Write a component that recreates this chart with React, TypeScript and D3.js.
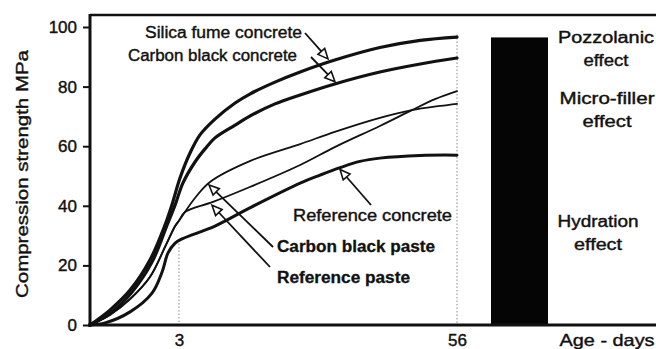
import React, { useEffect, useRef } from 'react';
import * as d3 from 'd3';

type Pt = [number, number]; // [age in days, strength in MPa]

const silicaFumeConcrete: Pt[] = [
  [0, 0], [0.67, 5], [1.35, 11.7], [2.02, 21.8], [2.53, 33.6], [2.76, 40.3], [3.19, 49.3],
  [5.1, 57.7], [7.0, 63.8], [9.86, 69.1], [13.7, 74.5], [16.5, 77.5], [21.3, 81.5],
  [26.1, 84.9], [32.7, 88.9], [41.3, 93.1], [49, 95.5], [56, 96.6],
];
const carbonBlackConcrete: Pt[] = [
  [0, 0], [0.74, 4.4], [1.42, 11.1], [2.09, 21.1], [2.6, 33.6], [2.87, 40.3], [3.76, 47.7],
  [6.05, 54.7], [7.96, 59.1], [9.86, 62.8], [13.7, 67.1], [16.5, 70.1], [21.3, 74.2],
  [26.1, 77.2], [32.7, 80.9], [41.3, 84.9], [49, 87.6], [56, 89.6],
];
const referenceConcrete: Pt[] = [
  [0, 0], [0.51, 0.7], [1.35, 4.4], [2.09, 10.7], [2.43, 17.8], [2.63, 24.2], [2.87, 27.5],
  [3.57, 28.9], [9.86, 33.2], [16.5, 39.3], [26.1, 47.6], [29.9, 50.3], [33.7, 52.8],
  [37.5, 54.9], [41.3, 56.0], [49, 56.9], [56, 57],
];
const pasteEarly: Pt[] = [
  [0, 0], [0.67, 3.4], [1.35, 8.7], [2.02, 16.1], [2.53, 26.2], [2.87, 33.2], [3, 35],
];
const carbonBlackPaste: Pt[] = [
  ...pasteEarly,
  [6.05, 42.6], [8.91, 48.0], [16.5, 55.0], [26.1, 60.7], [32.7, 64.8], [41.3, 69.5],
  [47.4, 72.1], [52.8, 73.5], [56, 74.2],
];
const referencePaste: Pt[] = [
  ...pasteEarly,
  [4.14, 37.9], [9.48, 41.3], [16.5, 46.3], [26.1, 53.7], [32.7, 59.7], [41.3, 66.8],
  [47.4, 72.1], [51.8, 75.8], [56, 78.5],
];

const yTicks = [0, 20, 40, 60, 80, 100];
const xTicks = [3, 56];
const barCategories = ['56 days'];
const barValues = [96.5];
const effectNames = [['Pozzolanic', 'effect'], ['Micro-filler', 'effect'], ['Hydration', 'effect']];
const effectLevels = [92.6, 72, 31];

const W = 656;
const H = 349;
const ink = '#111';

const App = () => {
  const ref = useRef<SVGSVGElement>(null);

  useEffect(() => {
    const svg = d3.select(ref.current);
    svg.selectAll('*').remove();
    svg.style('font-family', '"Liberation Sans", Arial, sans-serif');

    const x = d3.scaleLinear().domain([0, 3, 56]).range([90, 179, 457]);
    const y = d3.scaleLinear().domain([0, 100]).range([325, 27]);
    const band = d3.scaleBand().domain(barCategories).range([491, 548]).padding(0);

    const line = d3.line<Pt>().x(d => x(d[0])).y(d => y(d[1])).curve(d3.curveCatmullRom.alpha(0.5));

    // dotted guides at 3 and 56 days
    const guides: Pt[] = [[3, 28.5], [56, 97.5]];
    svg.selectAll('line.guide').data(guides).enter().append('line')
      .attr('class', 'guide')
      .attr('x1', d => x(d[0])).attr('x2', d => x(d[0]))
      .attr('y1', d => y(d[1])).attr('y2', y(0))
      .attr('stroke', '#888').attr('stroke-width', 1).attr('stroke-dasharray', '1.5,2');

    // bar
    svg.selectAll('rect.bar').data(barValues).enter().append('rect')
      .attr('class', 'bar')
      .attr('x', (d, i) => band(barCategories[i]) as number)
      .attr('width', band.bandwidth())
      .attr('y', d => y(d))
      .attr('height', d => y(0) - y(d))
      .attr('fill', '#050505');

    // frame
    const top = y(104);
    svg.append('line').attr('x1', 90).attr('x2', W).attr('y1', top).attr('y2', top)
      .attr('stroke', ink).attr('stroke-width', 2.5);
    svg.append('line').attr('x1', 90).attr('x2', 90).attr('y1', top - 1).attr('y2', y(0) + 1.5)
      .attr('stroke', ink).attr('stroke-width', 3);
    svg.append('line').attr('x1', 88).attr('x2', W).attr('y1', y(0)).attr('y2', y(0))
      .attr('stroke', ink).attr('stroke-width', 3);

    // axes
    const yAxis = svg.append('g').attr('transform', 'translate(90,0)')
      .call(d3.axisLeft(y).tickValues(yTicks).tickSize(7).tickPadding(6).tickFormat(d3.format('d')));
    yAxis.select('.domain').remove();
    yAxis.selectAll('line').attr('stroke', ink).attr('stroke-width', 2);
    yAxis.selectAll('text').attr('font-size', 17).attr('fill', ink).attr('font-family', null)
      .attr('stroke', ink).attr('stroke-width', 0.4);

    const xAxis = svg.append('g').attr('transform', `translate(0,${y(0)})`)
      .call(d3.axisBottom(x).tickValues(xTicks).tickSize(0).tickPadding(9).tickFormat(d3.format('d')));
    xAxis.select('.domain').remove();
    xAxis.selectAll('text').attr('font-size', 17).attr('fill', ink).attr('font-family', null)
      .attr('stroke', ink).attr('stroke-width', 0.4);

    // curves
    const curves: [Pt[], number][] = [
      [silicaFumeConcrete, 3.2],
      [carbonBlackConcrete, 3.2],
      [referenceConcrete, 3],
      [carbonBlackPaste, 1.8],
      [referencePaste, 1.8],
    ];
    svg.selectAll('path.curve').data(curves).enter().append('path')
      .attr('class', 'curve')
      .attr('d', d => line(d[0]))
      .attr('fill', 'none')
      .attr('stroke', ink)
      .attr('stroke-width', d => d[1])
      .attr('stroke-linecap', 'round');

    // arrows: start in pixels, tip on the curve in data units
    const arrows: { from: [number, number]; tip: Pt }[] = [
      { from: [305, 33], tip: [31.4, 89.3] },
      { from: [311, 57], tip: [32.74, 81.6] },
      { from: [371, 205], tip: [33.7, 52.2] },
      { from: [273, 247], tip: [8.72, 47.0] },
      { from: [270, 267], tip: [9.29, 40.2] },
    ];
    arrows.forEach(a => {
      const tx = x(a.tip[0]);
      const ty = y(a.tip[1]);
      const dx = tx - a.from[0];
      const dy = ty - a.from[1];
      const len = Math.hypot(dx, dy);
      const ux = dx / len;
      const uy = dy / len;
      const L = 10;
      const hw = 4.5;
      const bx = tx - ux * L;
      const by = ty - uy * L;
      svg.append('line')
        .attr('x1', a.from[0]).attr('y1', a.from[1]).attr('x2', bx).attr('y2', by)
        .attr('stroke', ink).attr('stroke-width', 1.8);
      svg.append('polygon')
        .attr('points', [
          [tx, ty],
          [bx - uy * hw, by + ux * hw],
          [bx + uy * hw, by - ux * hw],
        ].map(p => p.join(',')).join(' '))
        .attr('fill', '#fff').attr('stroke', ink).attr('stroke-width', 1.6);
    });

    const label = (txt: string, x0: number, cy: number, w: number, size: number, bold = false, anchor = 'start') =>
      svg.append('text')
        .attr('x', x0).attr('y', cy)
        .attr('dominant-baseline', 'central')
        .attr('text-anchor', anchor)
        .attr('font-size', size)
        .attr('font-weight', bold ? 'bold' : 'normal')
        .attr('textLength', w)
        .attr('lengthAdjust', 'spacingAndGlyphs')
        .attr('fill', ink)
        .attr('stroke', ink)
        .attr('stroke-width', bold ? 0.3 : 0.4)
        .text(txt);

    // curve labels
    label('Silica fume concrete', 145, 32, 157, 16);
    label('Carbon black concrete', 128, 55, 169, 16);
    label('Reference concrete', 293, 215, 159, 16);
    label('Carbon black paste', 277, 246, 158, 16, true);
    label('Reference paste', 277, 277, 133, 16, true);

    // effect labels beside the bar
    const effectX = [606, 607, 598];
    const effectW = [[96, 45], [95, 49], [81, 48]];
    effectNames.forEach((lines, i) => {
      const cy = y(effectLevels[i]);
      lines.forEach((t, j) => label(t, effectX[i], cy + (j === 0 ? -11.5 : 11.5), effectW[i][j], 16, false, 'middle'));
    });

    label('Age - days', 607, 340, 95, 17, false, 'middle');

    svg.append('text')
      .attr('transform', 'translate(22,174) rotate(-90)')
      .attr('text-anchor', 'middle')
      .attr('dominant-baseline', 'central')
      .attr('font-size', 17)
      .attr('textLength', 248)
      .attr('lengthAdjust', 'spacingAndGlyphs')
      .attr('fill', ink)
      .attr('stroke', ink)
      .attr('stroke-width', 0.4)
      .text('Compression strength  MPa');
  }, []);

  return (
    <svg
      ref={ref}
      width={W}
      height={H}
      style={{ position: 'absolute', left: 0, top: 0, background: '#fff', display: 'block' }}
    />
  );
};

export default App;
